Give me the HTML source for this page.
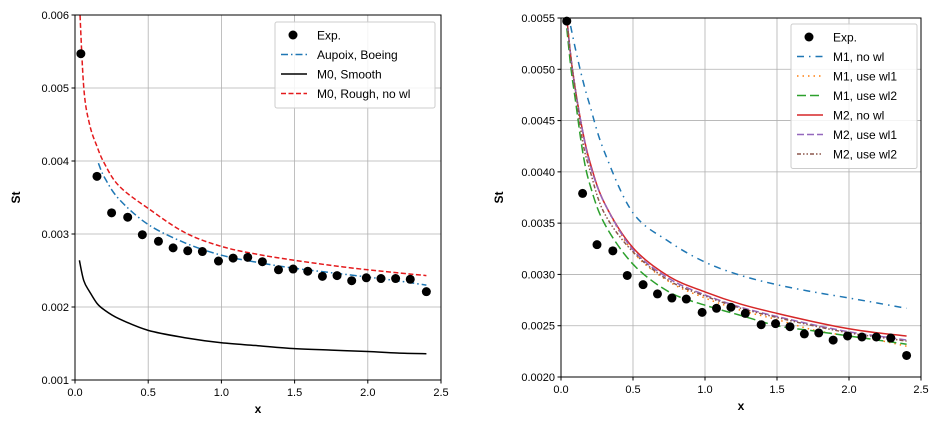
<!DOCTYPE html>
<html><head><meta charset="utf-8"><style>
body{margin:0;background:#fff;width:940px;height:429px;overflow:hidden}
svg{font-family:"Liberation Sans","DejaVu Sans",sans-serif}
</style></head><body>
<svg id="c" width="940" height="429"></svg>
<script>
const expX=[0.04,0.15,0.25,0.36,0.46,0.57,0.67,0.77,0.87,0.98,1.08,1.18,1.28,1.39,1.49,1.59,1.69,1.79,1.89,1.99,2.09,2.19,2.29,2.40];
const expY=[0.00547,0.00379,0.00329,0.00323,0.00299,0.00290,0.00281,0.00277,0.00276,0.00263,0.00267,0.00268,0.00262,0.00251,0.00252,0.00249,0.00242,0.00243,0.00236,0.00240,0.00239,0.00239,0.00238,0.00221];
const curveX=[0.03,0.06,0.1,0.15,0.2,0.3,0.5,0.75,1.0,1.25,1.5,1.75,2.0,2.2,2.4];
const roughY=[0.0062,0.0050,0.0045,0.00420,0.00397,0.00366,0.00335,0.00302,0.00283,0.00272,0.00264,0.00257,0.00251,0.00247,0.00243];
const smoothY=[0.00264,0.00236,0.00221,0.00205,0.00196,0.00184,0.00168,0.00158,0.00151,0.00147,0.00143,0.00141,0.00139,0.00137,0.00136];
const aupX=[0.16,0.2,0.3,0.5,0.75,1.0,1.25,1.5,1.75,2.0,2.2,2.4];
const aupY=[0.00397,0.00378,0.00348,0.00313,0.00288,0.00271,0.00261,0.00253,0.00247,0.00241,0.00236,0.00230];
const rX=[0.04,0.07,0.1,0.15,0.2,0.3,0.5,0.75,1.0,1.25,1.5,1.75,2.0,2.2,2.4];
const m1noY=[0.0056,0.0054,0.0052,0.0049,0.00465,0.0042,0.0036,0.00332,0.00312,0.00299,0.00290,0.00283,0.00277,0.00272,0.00267];
const m1wl1Y=[0.0055,0.0051,0.0048,0.0044,0.00408,0.0037,0.00322,0.00293,0.00277,0.00265,0.00256,0.00246,0.00240,0.00236,0.00230];
const m1wl2Y=[0.0054,0.0050,0.0047,0.0042,0.00388,0.0035,0.00310,0.00283,0.00270,0.00260,0.00250,0.00245,0.00240,0.00236,0.00232];
const m2noY=[0.0055,0.0051,0.0048,0.0044,0.00410,0.0037,0.00326,0.00298,0.00283,0.00271,0.00262,0.00254,0.00247,0.00243,0.00240];
const m2wl1Y=[0.0055,0.0051,0.0048,0.0044,0.00408,0.0037,0.00324,0.00296,0.00280,0.00268,0.00259,0.00251,0.00244,0.00240,0.00236];
const m2wl2Y=[0.0055,0.0051,0.0048,0.0043,0.00402,0.0036,0.00322,0.00294,0.00279,0.00267,0.00258,0.00250,0.00243,0.00239,0.00235];
const xTicks=[0,0.5,1,1.5,2,2.5];
const yTicksL=[0.001,0.002,0.003,0.004,0.005,0.006];
const yTicksR=[0.002,0.0025,0.003,0.0035,0.004,0.0045,0.005,0.0055];

const NS="http://www.w3.org/2000/svg",svg=document.getElementById('c');
function mk(t,a,p){const e=document.createElementNS(NS,t);for(const k in a)e.setAttribute(k,a[k]);(p||svg).appendChild(e);return e;}
function spline(P){let d='M'+P[0][0].toFixed(1)+','+P[0][1].toFixed(1);
  for(let i=0;i<P.length-1;i++){const p0=P[Math.max(0,i-1)],p1=P[i],p2=P[i+1],p3=P[Math.min(P.length-1,i+2)];
    const c1=[p1[0]+(p2[0]-p0[0])/6,p1[1]+(p2[1]-p0[1])/6],c2=[p2[0]-(p3[0]-p1[0])/6,p2[1]-(p3[1]-p1[1])/6];
    d+='C'+c1.map(v=>v.toFixed(1)).join(',')+' '+c2.map(v=>v.toFixed(1)).join(',')+' '+p2.map(v=>v.toFixed(1)).join(',');}
  return d;}
function panel(id,L,R,T,B,ymin,ymax,yTicks,dec){
  const g=mk('g',{});
  
  
  const sx=v=>L+(v-0)/2.5*(R-L), sy=v=>B-(v-ymin)/(ymax-ymin)*(B-T);
  const cp=mk('clipPath',{id:id+'-clip'},g);mk('rect',{x:L,y:T,width:R-L,height:B-T},cp);
  xTicks.forEach(v=>{const x=sx(v);
    const l=mk('line',{x1:x,x2:x,y1:T,y2:B,stroke:'#b0b0b0','stroke-width':0.8},g);
    
    mk('line',{x1:x,x2:x,y1:B,y2:B+3.5,stroke:'#000'},g);
    const t=mk('text',{x:x,y:B+16,'text-anchor':'middle','font-size':11},g);t.textContent=v.toFixed(1);
    });
  yTicks.forEach(v=>{const y=sy(v);
    const l=mk('line',{x1:L,x2:R,y1:y,y2:y,stroke:'#b0b0b0','stroke-width':0.8},g);
    
    mk('line',{x1:L-3.5,x2:L,y1:y,y2:y,stroke:'#000'},g);
    const t=mk('text',{x:L-6,y:y+4,'text-anchor':'end','font-size':11},g);t.textContent=v.toFixed(dec);
    });
  const gx=mk('text',{x:(L+R)/2,y:B+33,'text-anchor':'middle','font-size':12,'font-weight':'bold'},g);gx.textContent='x';
  
  const yt=mk('text',{x:0,y:0,'text-anchor':'middle','font-size':12,'font-weight':'bold',transform:`translate(${L-58+(dec==3?3:0)},${(T+B)/2}) rotate(-90)`},g);yt.textContent='St';
  
  const cg=mk('g',{'clip-path':`url(#${id}-clip)`},g);
  const line=(xs,ys,col,dash,name)=>{const p=mk('path',{d:spline(xs.map((x,i)=>[sx(x),sy(ys[i])])),fill:'none',stroke:col,'stroke-width':1.5,'stroke-dasharray':dash},cg);
    };
  const pts=()=>{expX.forEach((x,i)=>{const c=mk('circle',{cx:sx(x),cy:sy(expY[i]),r:4.5,fill:'#000'},g);
    });};
  mk('rect',{x:L,y:T,width:R-L,height:B-T,fill:'none',stroke:'#000','stroke-width':1},g);
  return {line,pts,g};
}
function legend(g,x,y,w,items){
  const r=mk('rect',{x:x,y:y,width:w,height:items.length*19.5+8,fill:'#fff','fill-opacity':0.85,stroke:'#ccc',rx:2},g);
  
  items.forEach((it,i)=>{const cy=y+13+i*19.5;
    if(it[1]=='dot'){mk('circle',{cx:x+18,cy:cy,r:4.5,fill:'#000'},g);}
    else mk('line',{x1:x+6,x2:x+32,y1:cy,y2:cy,stroke:it[1],'stroke-width':1.5,'stroke-dasharray':it[2]},g);
    const t=mk('text',{x:x+42,y:cy+4.5,'font-size':12},g);t.textContent=it[0];
    });
}
const A=panel('left-panel',75,441,15,380,0.001,0.006,yTicksL,3);
A.line(curveX,smoothY,'#000','','smooth-line');
A.line(aupX,aupY,'#1f77b4','7,3,1.5,3','aupoix-line');
A.line(curveX,roughY,'#e41a1c','5,2.5','rough-line');
A.pts();
legend(A.g,275,22,160,[['Exp.','dot'],['Aupoix, Boeing','#1f77b4','7,3,1.5,3'],['M0, Smooth','#000',''],['M0, Rough, no wl','#e41a1c','5,2.5']]);
const B=panel('right-panel',561,921,18,377,0.002,0.0055,yTicksR,4);
B.line(rX,m1noY,'#1f77b4','7,5,1.5,5','m1-no-wl-line');
B.line(rX,m1wl1Y,'#ff7f0e','1.5,4','m1-wl1-line');
B.line(rX,m1wl2Y,'#2ca02c','9,4','m1-wl2-line');
B.line(rX,m2noY,'#d62728','','m2-no-wl-line');
B.line(rX,m2wl1Y,'#9467bd','7,3','m2-wl1-line');
B.line(rX,m2wl2Y,'#8c564b','4,2,1.5,2,1.5,2','m2-wl2-line');
B.pts();
legend(B.g,791,24,126,[['Exp.','dot'],['M1, no wl','#1f77b4','7,5,1.5,5'],['M1, use wl1','#ff7f0e','1.5,4'],['M1, use wl2','#2ca02c','9,4'],['M2, no wl','#d62728',''],['M2, use wl1','#9467bd','7,3'],['M2, use wl2','#8c564b','4,2,1.5,2,1.5,2']]);
</script>
</body></html>
